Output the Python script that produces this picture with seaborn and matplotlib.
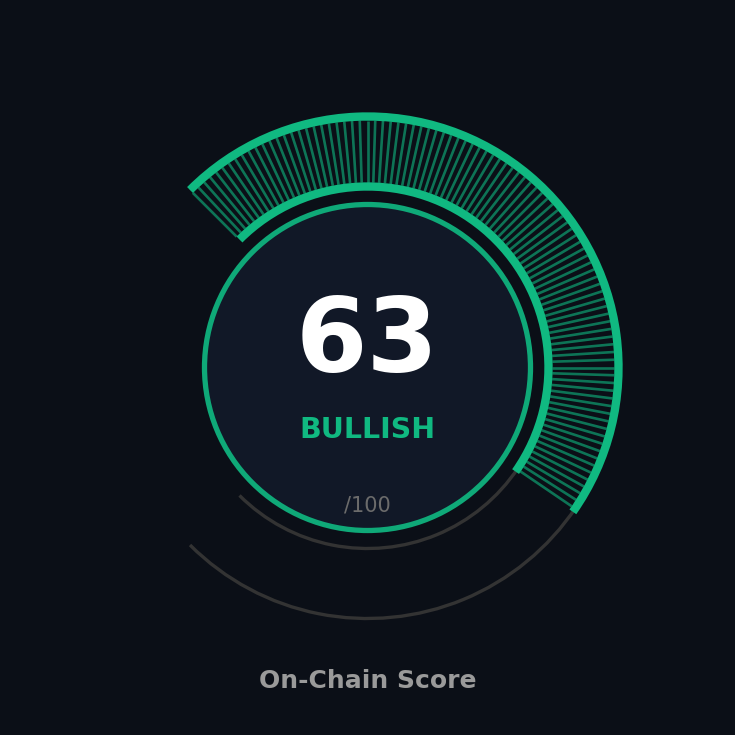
import numpy as np
import matplotlib.pyplot as plt
import seaborn as sns
from matplotlib.patches import Arc, Circle

score = 63
max_score = 100
label = "BULLISH"
title = "On-Chain Score"

bg = '#0b0f17'
green = '#10b981'

sns.set_theme(style="dark", rc={'axes.facecolor': bg, 'figure.facecolor': bg})
plt.rcParams['font.family'] = ['DejaVu Sans']

fig = plt.figure(figsize=(7.35, 7.35), dpi=100)
ax = fig.add_axes([0, 0, 1, 1])
ax.set_xlim(-367.5, 367.5)
ax.set_ylim(-367.5, 367.5)
ax.set_aspect('equal')
ax.axis('off')

start, sweep = 135, 270
end_val = start - sweep * score / max_score
r_out, r_in = 251, 181

# gray tracks
for r in (r_out, r_in):
    ax.add_patch(Arc((0, 0), 2 * r, 2 * r, theta1=start - sweep, theta2=start,
                     color='#333333', lw=2.4, capstyle='butt'))

# tick marks in the filled part
ang = np.deg2rad(np.arange(start, end_val, -1.8))
for a in ang:
    ax.plot([185 * np.cos(a), 247 * np.cos(a)], [185 * np.sin(a), 247 * np.sin(a)],
            color=green, alpha=0.6, lw=1.9, solid_capstyle='butt')

# filled arcs
for r in (r_out, r_in):
    ax.add_patch(Arc((0, 0), 2 * r, 2 * r, theta1=end_val, theta2=start,
                     color=green, lw=6.0, capstyle='butt'))

# inner disc
ax.add_patch(Circle((0, 0), 163, facecolor='#111827', edgecolor='#0fa978', lw=3.8))

ax.text(0, 24, str(score), color='white', fontsize=74, fontweight='bold',
        ha='center', va='center')
ax.text(0, -62, label, color=green, fontsize=20.5, fontweight='bold',
        ha='center', va='center')
ax.text(0, -138, f"/{max_score}", color='#6b6b6b', fontsize=15,
        ha='center', va='center')
ax.text(0, -314, title, color='#9a9a9a', fontsize=18, fontweight='bold',
        ha='center', va='center')

fig.savefig('out.png', dpi=100, facecolor=bg)
